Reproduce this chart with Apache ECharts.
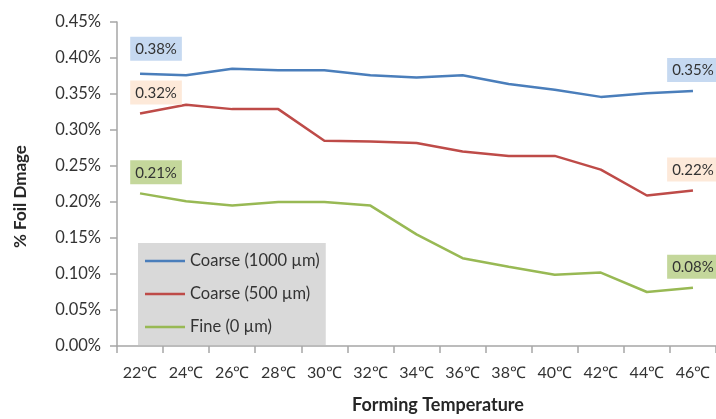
<!DOCTYPE html>
<html>
<head>
<meta charset="utf-8">
<script src="https://cdn.jsdelivr.net/npm/echarts@6/dist/echarts.min.js"></script>
<style>
  html, body { margin: 0; padding: 0; background: #ffffff; }
  #chart { width: 716px; height: 419px; }
</style>
</head>
<body>
<div id="chart"></div>
<script>
// Forming temperature categories
var temperatures = ['22℃', '24℃', '26℃', '28℃', '30℃', '32℃', '34℃', '36℃', '38℃', '40℃', '42℃', '44℃', '46℃'];

// Foil damage, in percent
var coarse1000 = [0.378, 0.376, 0.385, 0.383, 0.383, 0.376, 0.373, 0.376, 0.364, 0.356, 0.346, 0.351, 0.354];
var coarse500  = [0.323, 0.335, 0.329, 0.329, 0.285, 0.284, 0.282, 0.270, 0.264, 0.264, 0.245, 0.209, 0.216];
var fine0      = [0.212, 0.201, 0.195, 0.200, 0.200, 0.195, 0.155, 0.122, 0.110, 0.099, 0.102, 0.075, 0.081];

var seriesNames = ['Coarse (1000 µm)', 'Coarse (500 µm)', 'Fine (0 µm)'];
var lineColors  = ['#4a7ebb', '#be4b48', '#98b954'];
var labelFills  = ['#c6d9f1', '#fde9d9', '#c4d79b'];

var FONT = 'Lato, "Open Sans", sans-serif';

// Only the first and last point of each line carry a value label
function withEndLabels(values, idx) {
  var last = values.length - 1;
  return values.map(function (v, i) {
    if (i === 0 || i === last) {
      var lbl = { show: true };
      if (i === 0) lbl.offset = idx === 0 ? [16, -4] : [16, 0];
      return { value: v, label: lbl };
    }
    return v;
  });
}

var allValues = [coarse1000, coarse500, fine0];
var series = allValues.map(function (vals, k) {
  return {
    name: seriesNames[k],
    type: 'line',
    data: withEndLabels(vals, k),
    symbol: 'circle',
    symbolSize: 0,
    showSymbol: true,
    clip: false,
    lineStyle: { color: lineColors[k], width: 2.5 },
    itemStyle: { color: lineColors[k] },
    label: {
      show: false,
      position: 'top',
      distance: 9,
      formatter: function (p) { return p.value.toFixed(2) + '%'; },
      backgroundColor: labelFills[k],
      padding: [4, 5, 3, 5],
      fontFamily: FONT,
      fontSize: 15,
      lineHeight: 17,
      color: '#333333'
    },
    emphasis: { disabled: true }
  };
});

var chart = echarts.init(document.getElementById('chart'));
chart.setOption({
  animation: false,
  backgroundColor: '#ffffff',
  grid: { left: 117, top: 22, width: 603, height: 333 },
  legend: {
    orient: 'vertical',
    left: 138,
    top: 243,
    data: seriesNames,
    icon: 'rect',
    backgroundColor: '#d9d9d9',
    padding: [9, 6, 9, 7],
    itemWidth: 40,
    itemHeight: 2.5,
    itemGap: 15,
    textStyle: { fontFamily: FONT, fontSize: 16.5, lineHeight: 18, color: '#333333' }
  },
  xAxis: {
    type: 'category',
    data: temperatures,
    boundaryGap: true,
    axisLine: { lineStyle: { color: '#a6a6a6', width: 1.5 } },
    axisTick: { show: true, length: 7, lineStyle: { color: '#a6a6a6', width: 1.5 } },
    axisLabel: { fontFamily: FONT, fontSize: 16, color: '#333333', margin: 19 },
    name: 'Forming Temperature',
    nameLocation: 'middle',
    nameGap: 50,
    nameTextStyle: { fontFamily: FONT, fontSize: 18, fontWeight: 'bold', color: '#262626', padding: [0, 0, 0, 43] }
  },
  yAxis: {
    type: 'value',
    min: 0,
    max: 0.45,
    interval: 0.05,
    axisLine: { show: true, lineStyle: { color: '#a6a6a6', width: 1.5 } },
    axisTick: { show: true, length: 7, lineStyle: { color: '#a6a6a6', width: 1.5 } },
    splitLine: { show: false },
    axisLabel: {
      fontFamily: FONT, fontSize: 16.5, color: '#333333', margin: 16,
      formatter: function (v) { return v.toFixed(2) + '%'; }
    },
    name: '% Foil Dmage',
    nameLocation: 'middle',
    nameRotate: 90,
    nameGap: 88,
    nameTextStyle: { fontFamily: FONT, fontSize: 17, fontWeight: 'bold', color: '#262626', padding: [0, 25, 0, 0] }
  },
  series: series
});
</script>
</body>
</html>
